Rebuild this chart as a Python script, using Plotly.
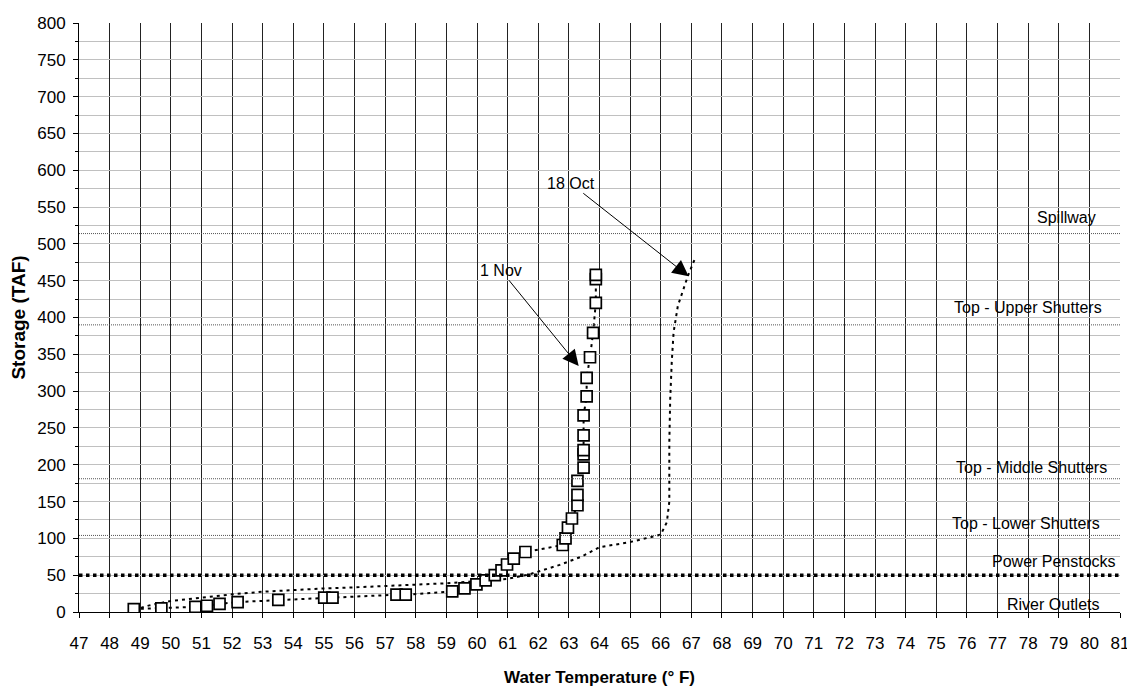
import plotly.graph_objects as go

# 1 Nov profile (markers)
nov_temp = [48.79, 49.69, 50.80, 51.18, 51.59, 52.18, 53.51, 55.01, 55.28, 57.37,
            57.67, 59.19, 59.59, 59.98, 60.28, 60.58, 60.80, 60.98, 61.20, 61.58,
            62.80, 62.89, 62.97, 63.10, 63.28, 63.28, 63.28, 63.48, 63.48, 63.48,
            63.48, 63.48, 63.58, 63.58, 63.69, 63.79, 63.88, 63.88, 63.88]
nov_storage = [4, 5, 7, 8.5, 11, 13.5, 16.5, 19.5, 19.5, 23.5,
               23.5, 28, 32, 37.5, 43, 50, 56.5, 64.5, 72.5, 81.5,
               91, 100, 114.5, 127, 145, 159, 178, 196, 214, 220,
               240, 267, 293, 318, 346, 379, 420, 452, 458]

# 18 Oct profile (line only)
oct_temp = [48.8, 49.3, 50.0, 51.0, 52.0, 53.0, 54.0, 55.0, 56.0, 57.0,
            58.0, 59.0, 60.0, 61.0, 61.7, 62.7, 63.4, 64.0, 65.0, 66.0,
            66.2, 66.28, 66.28, 66.31, 66.36, 66.42, 66.56, 66.9, 67.1]
oct_storage = [3, 9, 15, 20, 24, 27.5, 30, 32, 33.5, 35,
               37, 39, 42, 45, 51, 64, 75, 88, 95, 105,
               122, 150, 230, 290, 340, 380, 416, 458, 478]

# outlet levels (TAF)
level_names = ["Spillway", "Top - Upper Shutters", "Top - Middle Shutters",
               "Top - Lower Shutters", "Power Penstocks", "River Outlets"]
level_storage = [514, 390, 181, 104, 50, 0]

FONT = "Arial, Liberation Sans, sans-serif"

fig = go.Figure()

fig.add_trace(go.Scatter(
    x=oct_temp, y=oct_storage, mode="lines",
    line=dict(color="black", width=2, dash="3px,4px"),
    showlegend=False))

fig.add_trace(go.Scatter(
    x=nov_temp, y=nov_storage, mode="lines+markers",
    line=dict(color="black", width=2, dash="3px,4px"),
    marker=dict(symbol="square", size=11, color="white",
                line=dict(width=1.7, color="black")),
    showlegend=False))

# reference levels
for name, lvl in zip(level_names, level_storage):
    if name == "River Outlets":
        continue
    if name == "Power Penstocks":
        ln = dict(color="black", width=3.5, dash="dot")
    else:
        ln = dict(color="#555555", width=1, dash="1px,1px")
    fig.add_shape(type="line", xref="paper", x0=0, x1=1, yref="y",
                  y0=lvl, y1=lvl, line=ln, layer="above")

label_pos = {
    "Spillway": (0.979, 16),
    "Top - Upper Shutters": (0.985, 17),
    "Top - Middle Shutters": (0.989, 11),
    "Top - Lower Shutters": (0.983, 12),
    "Power Penstocks": (0.998, 14),
    "River Outlets": (0.982, 8),
}
for name, lvl in zip(level_names, level_storage):
    px, shift = label_pos[name]
    fig.add_annotation(x=px, xref="paper", y=lvl, yref="y", text=name,
                       showarrow=False, xanchor="right", yanchor="middle",
                       yshift=shift, font=dict(size=16, color="black", family=FONT))

# date callouts
fig.add_annotation(x=66.91, y=456, text="18 Oct", ax=-118, ay=-93,
                   showarrow=True, arrowhead=2, arrowsize=3.2, arrowwidth=1,
                   arrowcolor="black", font=dict(size=16, color="black", family=FONT))
fig.add_annotation(x=63.32, y=334, text="1 Nov", ax=-78, ay=-96,
                   showarrow=True, arrowhead=2, arrowsize=3.2, arrowwidth=1,
                   arrowcolor="black", font=dict(size=16, color="black", family=FONT))

fig.update_xaxes(
    range=[47, 81], dtick=1, tick0=47,
    showgrid=True, gridcolor="#222222", gridwidth=1,
    showline=True, linecolor="black", linewidth=1,
    ticks="outside", ticklen=5, tickcolor="black",
    ticklabelstandoff=11, zeroline=False,
    tickfont=dict(size=17, color="black", family=FONT),
    title=dict(text="<b>Water Temperature (° F)</b>", standoff=18,
               font=dict(size=17, color="black", family=FONT)))

fig.update_yaxes(
    range=[0, 800], dtick=50, tick0=0,
    showgrid=True, gridcolor="#c0c0c0", gridwidth=1,
    showline=True, linecolor="black", linewidth=1,
    ticks="outside", ticklen=5, tickcolor="black",
    ticklabelstandoff=4, zeroline=False, ticklabeloverflow="allow",
    minor=dict(dtick=25, ticks="outside", ticklen=3, tickcolor="black",
               showgrid=True, gridcolor="#c0c0c0"),
    tickfont=dict(size=17, color="black", family=FONT),
    title=dict(text="<b>Storage (TAF)</b>", standoff=10,
               font=dict(size=19, color="black", family=FONT)))

# page body adds an 8px offset, so the figure is sized/margined to compensate
fig.update_layout(
    width=1127, height=681,
    margin=dict(l=71, r=13, t=6, b=77),
    plot_bgcolor="white", paper_bgcolor="white",
    font=dict(family=FONT, color="black"))

fig.write_html("out.html")
